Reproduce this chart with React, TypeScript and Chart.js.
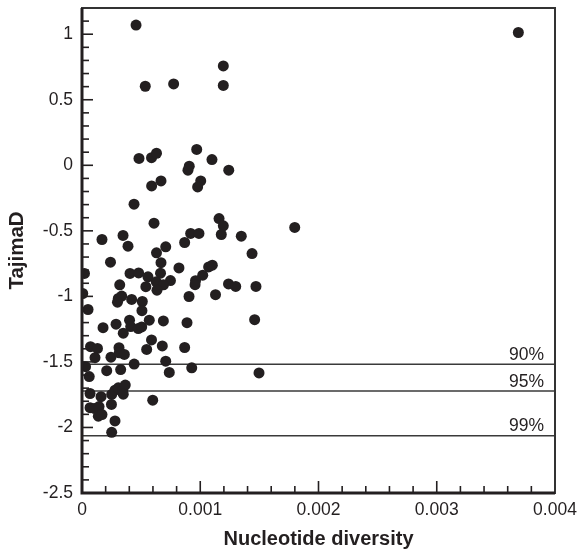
import React, { useEffect, useRef } from 'react';
import { Chart, registerables } from 'chart.js';

Chart.register(...registerables);

// Nucleotide diversity (x) and Tajima's D (y) for each locus
const diversity = [
  0.000457, 0.00369, 0.000535, 0.000775, 0.001195, 0.001195,
  0.000482, 0.000588, 0.00063, 0.00097, 0.001099, 0.001241,
  0.000907, 0.000896, 0.001004, 0.000978, 0.000589, 0.000668,
  0.00044, 0.001159, 0.001195, 0.001178, 0.001347, 0.001799,
  0.000609, 0.000169, 0.000347, 0.000389, 0.000919, 0.000989,
  0.000868, 0.000708, 0.00063, 0.001438, 0.000241, 0.000668,
  0.00082, 0.001071, 0.001102, 0.001021, 0.000021, 0.000406,
  0.000479, 0.000558, 0.000664, 0.000628, 0.000748, 0.000689,
  0.000319, 0.00054, 0.00096, 0.000956, 0.001239, 0.0013,
  0.001471, 0.000634, 0.000905, 0.001129, 0.000006, 0.000307,
  0.000336, 0.0003, 0.00042, 0.00051, 0.000507, 0.000051,
  0.000178, 0.000288, 0.000402, 0.000412, 0.000476, 0.000505,
  0.000569, 0.000688, 0.000888, 0.00146, 0.000349, 0.000588,
  0.000547, 0.000679, 0.000868, 0.000072, 0.000131, 0.00011,
  0.000245, 0.000313, 0.000315, 0.000358, 0.00003, 0.000061,
  0.000209, 0.000327, 0.000441, 0.000708, 0.000738, 0.000928,
  0.001497, 0.000068, 0.000161, 0.000251, 0.000279, 0.000307,
  0.000344, 0.000366, 0.000349, 0.000068, 0.000104, 0.000144,
  0.000138, 0.000169, 0.000249, 0.000279, 0.000251, 0.000598,
];
const tajimaD = [
  1.07, 1.013, 0.603, 0.621, 0.758, 0.609,
  0.052, 0.058, 0.092, 0.121, 0.044, -0.037,
  -0.007, -0.037, -0.119, -0.165, -0.157, -0.119,
  -0.297, -0.406, -0.462, -0.528, -0.541, -0.474,
  -0.442, -0.566, -0.535, -0.617, -0.52, -0.52,
  -0.589, -0.622, -0.668, -0.673, -0.739, -0.743,
  -0.783, -0.775, -0.762, -0.838, -0.825, -0.825,
  -0.821, -0.851, -0.823, -0.889, -0.879, -0.912,
  -0.912, -0.926, -0.88, -0.911, -0.905, -0.924,
  -0.924, -0.953, -1.001, -0.987, -0.978, -1.016,
  -0.998, -1.044, -1.023, -1.039, -1.109, -1.1,
  -1.239, -1.212, -1.182, -1.23, -1.246, -1.233,
  -1.182, -1.187, -1.201, -1.178, -1.281, -1.332,
  -1.405, -1.378, -1.39, -1.384, -1.397, -1.468,
  -1.464, -1.391, -1.431, -1.443, -1.536, -1.612,
  -1.567, -1.558, -1.516, -1.494, -1.58, -1.545,
  -1.584, -1.741, -1.765, -1.748, -1.716, -1.698,
  -1.716, -1.677, -1.746, -1.849, -1.855, -1.841,
  -1.914, -1.902, -1.824, -1.95, -2.037, -1.792,
];

// Significance thresholds for Tajima's D
const thresholdValues = [-1.518, -1.722, -2.063];
const thresholdLabels = ['90%', '95%', '99%'];

const xTickValues = [0, 0.001, 0.002, 0.003, 0.004];
const xTickLabels = ['0', '0.001', '0.002', '0.003', '0.004'];
const yTickValues = [-2.5, -2, -1.5, -1, -0.5, 0, 0.5, 1];
const yTickLabels = ['-2.5', '-2', '-1.5', '-1', '-0.5', '0', '0.5', '1'];

const X_MIN = 0;
const X_MAX = 0.004;
const Y_MIN = -2.5;
const Y_MAX = 1.2;
const X_MINOR = 0.0002;
const Y_MINOR = 0.1;

const INK = '#231f20';
const FONT = '"Liberation Sans", Arial, Helvetica, sans-serif';

const framePlugin = {
  id: 'frameTicks',
  afterDatasetsDraw(chart: any) {
    const { ctx, chartArea: a, scales } = chart;
    const x = scales.x;
    const y = scales.y;
    ctx.save();
    ctx.strokeStyle = INK;
    ctx.lineWidth = 1.6;
    const nx = Math.round((X_MAX - X_MIN) / X_MINOR);
    for (let i = 0; i <= nx; i++) {
      const px = x.getPixelForValue(X_MIN + i * X_MINOR);
      const len = i % 5 === 0 ? 12 : 7;
      ctx.beginPath();
      ctx.moveTo(px, a.bottom);
      ctx.lineTo(px, a.bottom - len);
      ctx.stroke();
    }
    const ny = Math.round((Y_MAX - Y_MIN) / Y_MINOR);
    for (let i = 0; i <= ny; i++) {
      const v = Y_MIN + i * Y_MINOR;
      const py = y.getPixelForValue(v);
      const len = i % 5 === 0 ? 11 : 7;
      ctx.beginPath();
      ctx.moveTo(a.left, py);
      ctx.lineTo(a.left + len, py);
      ctx.stroke();
    }
    // frame
    ctx.lineWidth = 2;
    ctx.strokeStyle = '#333';
    ctx.strokeRect(a.left, a.top, a.right - a.left, a.bottom - a.top);
    ctx.strokeStyle = INK;
    ctx.lineWidth = 3;
    ctx.beginPath();
    ctx.moveTo(a.left, a.top);
    ctx.lineTo(a.left, a.bottom);
    ctx.lineTo(a.right, a.bottom);
    ctx.stroke();
    // threshold labels
    ctx.fillStyle = INK;
    ctx.font = '17.5px ' + FONT;
    ctx.textAlign = 'right';
    ctx.textBaseline = 'alphabetic';
    thresholdValues.forEach((v, i) => {
      ctx.fillText(thresholdLabels[i], a.right - 11, y.getPixelForValue(v) - 4.5);
    });
    ctx.restore();
  },
};

export default function App() {
  const canvasRef = useRef<HTMLCanvasElement | null>(null);

  useEffect(() => {
    document.body.style.margin = '0';
    const canvas = canvasRef.current;
    if (!canvas) return;

    const points = diversity.map((d, i) => ({ x: d, y: tajimaD[i] }));
    const thresholdSets = thresholdValues.map((v, i) => ({
      type: 'line' as const,
      label: thresholdLabels[i],
      data: [
        { x: X_MIN, y: v },
        { x: X_MAX, y: v },
      ],
      borderColor: '#3a3a3a',
      borderWidth: 1.4,
      pointRadius: 0,
      fill: false,
      order: 2,
    }));

    const chart = new Chart(canvas, {
      type: 'scatter',
      data: {
        datasets: [
          {
            label: 'loci',
            data: points,
            backgroundColor: INK,
            borderColor: INK,
            borderWidth: 0,
            pointRadius: 5.5,
            order: 1,
          },
          ...thresholdSets,
        ] as any,
      },
      plugins: [framePlugin],
      options: {
        animation: false,
        responsive: false,
        maintainAspectRatio: false,
        events: [],
        layout: { padding: { top: 8, right: 25, bottom: 0, left: 0 } },
        plugins: {
          legend: { display: false },
          tooltip: { enabled: false },
        },
        scales: {
          x: {
            type: 'linear',
            min: X_MIN,
            max: X_MAX,
            grid: { display: false, drawTicks: false },
            border: { display: false },
            afterBuildTicks: (scale: any) => {
              scale.ticks = xTickValues.map((v) => ({ value: v }));
            },
            afterFit: (scale: any) => {
              scale.height = 59;
              scale.paddingLeft = 0;
              scale.paddingRight = 0;
            },
            ticks: {
              color: INK,
              font: { family: FONT, size: 17.5 },
              padding: 7,
              maxRotation: 0,
              autoSkip: false,
              callback: (v: any) => {
                const idx = xTickValues.findIndex((t) => Math.abs(t - Number(v)) < 1e-9);
                return idx >= 0 ? xTickLabels[idx] : '';
              },
            },
            title: {
              display: true,
              text: 'Nucleotide diversity',
              color: INK,
              font: { family: FONT, size: 20, weight: 'bold' },
              padding: { top: 0, bottom: 1 },
            },
          },
          y: {
            type: 'linear',
            min: Y_MIN,
            max: Y_MAX,
            grid: { display: false, drawTicks: false },
            border: { display: false },
            afterBuildTicks: (scale: any) => {
              scale.ticks = yTickValues.map((v) => ({ value: v }));
            },
            afterFit: (scale: any) => {
              scale.width = 82;
              scale.paddingTop = 0;
              scale.paddingBottom = 0;
            },
            ticks: {
              color: INK,
              font: { family: FONT, size: 17.5 },
              padding: 9,
              autoSkip: false,
              callback: (v: any) => {
                const idx = yTickValues.findIndex((t) => Math.abs(t - Number(v)) < 1e-9);
                return idx >= 0 ? yTickLabels[idx] : '';
              },
            },
            title: {
              display: true,
              text: 'TajimaD',
              color: INK,
              font: { family: FONT, size: 20.5, weight: 'bold' },
              padding: { top: 5, bottom: 0 },
            },
          },
        },
      } as any,
    });

    return () => {
      chart.destroy();
    };
  }, []);

  return (
    <div style={{ position: 'absolute', left: 0, top: 0, width: 580, height: 552, background: '#fff' }}>
      <canvas ref={canvasRef} width={580} height={552} style={{ display: 'block' }} />
    </div>
  );
}
